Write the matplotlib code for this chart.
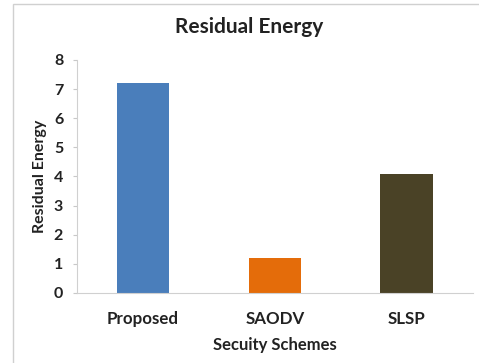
import matplotlib.pyplot as plt
from matplotlib.patches import Rectangle

schemes = ['Proposed', 'SAODV', 'SLSP']
energy = [7.2, 1.2, 4.1]
colours = ['#4a7ebb', '#e46c0a', '#4a4226']

plt.rcParams['font.family'] = ['Lato', 'DejaVu Sans']

fig = plt.figure(figsize=(4.79, 3.63), dpi=100)
ax = fig.add_axes([0.161, 0.193, 0.826, 0.642])

ax.bar(range(len(schemes)), energy, width=0.4, color=colours)
ax.set_xlim(-0.5, 2.5)
ax.set_ylim(0, 8)
ax.set_yticks(range(0, 9))
ax.set_xticks(range(len(schemes)))
ax.set_xticklabels(schemes, fontsize=12.2, fontweight='bold', color='#222222')
for lab in ax.get_yticklabels():
    lab.set_fontsize(11.5)
    lab.set_fontweight('bold')
    lab.set_color('#222222')
ax.tick_params(axis='y', length=3, color='#c8c8c8', pad=7)
ax.tick_params(axis='x', length=0, pad=13)

for s in ['top', 'right']:
    ax.spines[s].set_visible(False)
ax.spines['left'].set_color('#d0d0d0')
ax.spines['bottom'].set_color('#d0d0d0')

ax.set_ylabel('Residual Energy', fontsize=11.5, fontweight='bold', color='#222222', labelpad=5)
ax.set_xlabel('Secuity Schemes', fontsize=12, fontweight='bold', color='#222222', labelpad=7)
fig.text(0.52, 0.925, 'Residual Energy', ha='center', va='center',
         fontsize=15, fontweight='bold', color='#222222')

fig.patches.append(Rectangle((13 / 479, -0.1), 1.2, 1 - 4 / 363 + 0.1, transform=fig.transFigure,
                             fill=False, edgecolor='#d0d0d0', linewidth=1))

fig.savefig('out.png', dpi=100)
